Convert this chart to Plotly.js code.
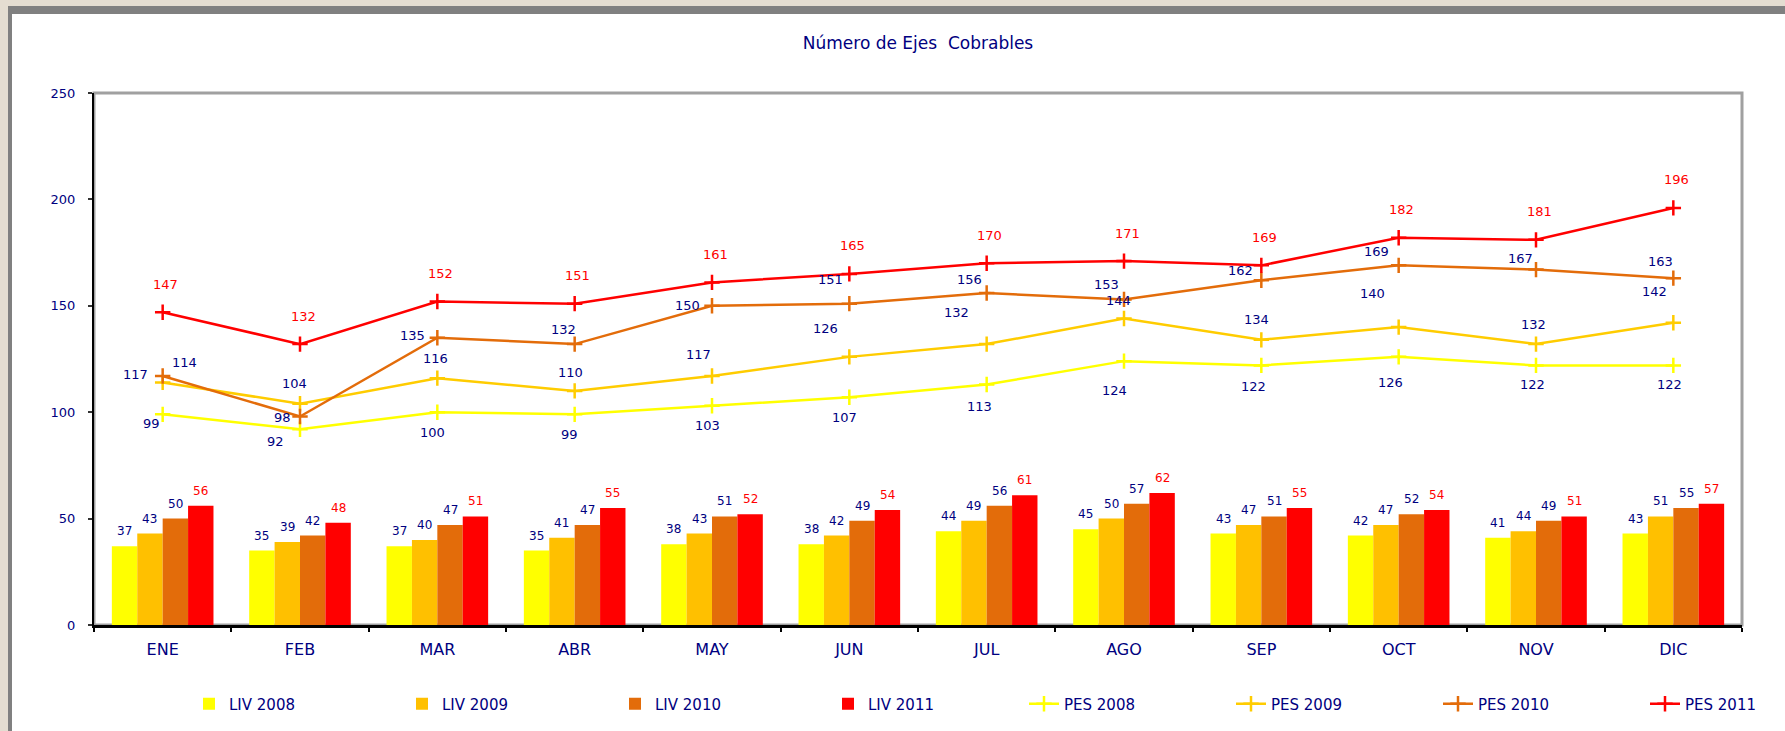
<!DOCTYPE html>
<html><head><meta charset="utf-8">
<script src="https://cdn.plot.ly/plotly-3.0.1.min.js"></script>
<style>
html,body{margin:0;padding:0;background:#e4ddd1;width:1785px;height:731px;overflow:hidden}
#frame{position:absolute;left:8px;top:6px;width:1800px;height:760px;background:#fff;border-top:8px solid #808080;border-left:4px solid #808080;box-sizing:border-box}
#chart{position:absolute;left:0;top:0;width:1785px;height:731px}
</style></head>
<body><div id="frame"></div><div id="chart"></div>
<script>
// ---- data ----
const months = ['ENE','FEB','MAR','ABR','MAY','JUN','JUL','AGO','SEP','OCT','NOV','DIC'];
const liv2008 = [37,35,37,35,38,38,44,45,43,42,41,43];
const liv2009 = [43,39,40,41,43,42,49,50,47,47,44,51];
const liv2010 = [50,42,47,47,51,49,56,57,51,52,49,55];
const liv2011 = [56,48,51,55,52,54,61,62,55,54,51,57];
const pes2008 = [99,92,100,99,103,107,113,124,122,126,122,122];
const pes2009 = [114,104,116,110,117,126,132,144,134,140,132,142];
const pes2010 = [117,98,135,132,150,151,156,153,162,169,167,163];
const pes2011 = [147,132,152,151,161,165,170,171,169,182,181,196];
const barNames = ['LIV 2008','LIV 2009','LIV 2010','LIV 2011'];
const lineNames = ['PES 2008','PES 2009','PES 2010','PES 2011'];

// ---- styling ----
const NAVY = '#000080';
const FONT = 'DejaVu Sans, Arial, sans-serif';
const barColors = ['#FFFF00','#FFC000','#E36C0A','#FF0000'];
const lineColors = ['#FFFF00','#FFCC00','#E36C0A','#FF0000'];
const labelColors = [NAVY, NAVY, NAVY, '#FF0000'];
const W = 1785, H = 731;
const M = {l:94, r:43, t:93, b:106};
const BARGAP = 0.26;
const LEG1 = {x:189, step:213};   // LIV legend (px)
const LEG2 = {x:1024, step:207};  // PES legend (px)

// label offsets (px) for line series labels
const offs2008 = [[-11,-9],[-25,-12],[-5,-20],[-5,-20],[-5,-20],[-5,-20],[-7,-22],[-10,-29],[-8,-21],[-8,-26],[-4,-19],[-4,-19]];
const offs2009 = [[22,20],[-6,20],[-2,20],[-4,18],[-14,22],[-24,28],[-30,32],[-6,18],[-5,20],[-26,34],[-3,20],[-19,31]];
const offs2010 = [[-27,2],[-18,-1],[-25,2],[-11,15],[-25,0],[-19,24],[-17,14],[-18,15],[-21,10],[-22,14],[-16,11],[-13,17]];
const offs2011 = months.map(() => [3, 28]);

const bars = [liv2008, liv2009, liv2010, liv2011];
const lines = [pes2008, pes2009, pes2010, pes2011];
const lineOffs = [offs2008, offs2009, offs2010, offs2011];

const traces = [];
bars.forEach((vals, i) => traces.push({
  type:'bar', name: barNames[i], x: months, y: vals,
  marker:{color: barColors[i]}, hoverinfo:'skip', legend:'legend'
}));
lines.forEach((vals, i) => traces.push({
  type:'scatter', mode:'lines+markers', name: lineNames[i], x: months, y: vals,
  line:{color: lineColors[i], width:2.5},
  marker:{symbol:'cross-thin', size:11, color: lineColors[i], line:{color: lineColors[i], width:2.5}},
  hoverinfo:'skip', legend:'legend2'
}));

const plotW = W - M.l - M.r;
const barW = plotW / months.length * (1 - BARGAP) / bars.length;
const annotations = [];
bars.forEach((vals, i) => vals.forEach((v, j) => annotations.push({
  x: months[j], y: v, xref:'x', yref:'y', text: String(v), showarrow:false,
  xshift: (i - (bars.length - 1) / 2) * barW, yshift: 15, yanchor:'middle',
  font:{family: FONT, size: 12, color: labelColors[i]}
})));
lines.forEach((vals, i) => vals.forEach((v, j) => annotations.push({
  x: months[j], y: v, xref:'x', yref:'y', text: String(v), showarrow:false,
  xshift: lineOffs[i][j][0], yshift: lineOffs[i][j][1], yanchor:'middle',
  font:{family: FONT, size: 13, color: labelColors[i]}
})));

const legendBase = {orientation:'h', xref:'container', yref:'container', y: 1 - 704/H, xanchor:'left', yanchor:'middle',
  entrywidthmode:'pixels', traceorder:'normal',
  font:{family: FONT, size: 15, color: NAVY}, bgcolor:'rgba(0,0,0,0)'};

const layout = {
  width: W, height: H,
  margin: M,
  paper_bgcolor:'rgba(0,0,0,0)', plot_bgcolor:'rgba(0,0,0,0)',
  font:{family: FONT, color: NAVY},
  title:{text:'Número de Ejes  Cobrables', x:0.5, xref:'paper', y: 1 - 43/H, yref:'container', yanchor:'middle',
    font:{family: FONT, size: 17, color: NAVY}},
  barmode:'group', bargap: BARGAP, bargroupgap: 0,
  showlegend: true,
  legend: Object.assign({}, legendBase, {x: LEG1.x / W, entrywidth: LEG1.step - 45}),
  legend2: Object.assign({}, legendBase, {x: LEG2.x / W, entrywidth: LEG2.step - 45}),
  xaxis:{type:'category', range:[-0.5, months.length - 0.5], tickson:'boundaries', ticks:'outside', ticklen:4, tickwidth:2, tickcolor:'#000',
    showline:true, linecolor:'#000', linewidth:2.5, showgrid:false, zeroline:false,
    ticklabelstandoff: 8, tickfont:{family: FONT, size: 16, color: NAVY}, fixedrange:true},
  yaxis:{range:[0,250], dtick:50, ticks:'outside', ticklen:4, tickwidth:2, tickcolor:'#333',
    showline:true, linecolor:'#000', linewidth:2, showgrid:false, zeroline:false,
    ticklabelstandoff: 10, tickfont:{family: FONT, size: 13, color: NAVY}, fixedrange:true},
  shapes:[{type:'rect', xref:'paper', yref:'paper', x0:0, x1:1, y0:0, y1:1, line:{color:'#a0a0a0', width:3}, layer:'below'}],
  annotations: annotations
};

Plotly.newPlot('chart', traces, layout, {displayModeBar:false, staticPlot:true});
</script>
</body></html>
